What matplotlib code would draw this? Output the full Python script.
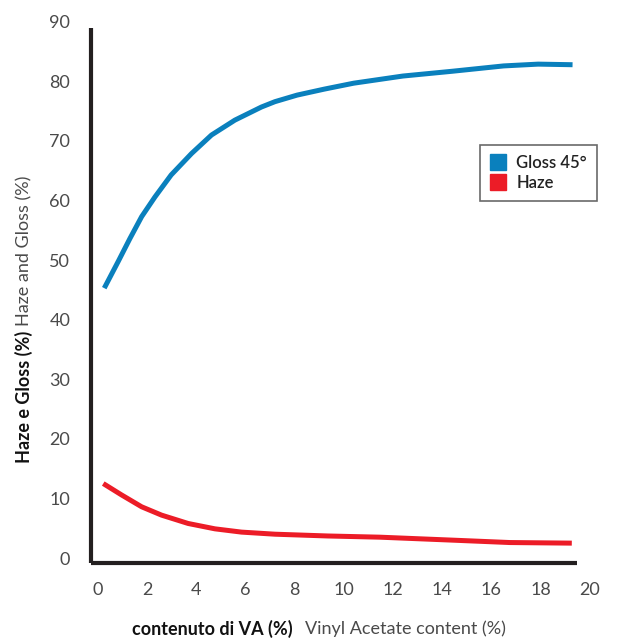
import matplotlib
matplotlib.use('Agg')
import matplotlib.pyplot as plt
from matplotlib.lines import Line2D

# data
va_gloss = [0.26, 0.83, 1.3, 1.78, 2.32, 2.98, 3.81, 4.62, 5.57, 6.65, 7.2, 8.1, 9.2,
            10.4, 12.4, 14.4, 16.5, 17.9, 19.3]
gloss = [45.3, 49.8, 53.6, 57.3, 60.6, 64.3, 67.9, 71.0, 73.5, 75.7, 76.6, 77.7, 78.7,
         79.7, 80.9, 81.7, 82.6, 82.9, 82.8]
va_haze = [0.22, 0.96, 1.78, 2.59, 3.67, 4.76, 5.84, 7.2, 9.36, 11.46, 14.43, 16.75, 19.27]
haze = [12.5, 10.6, 8.6, 7.2, 5.8, 4.9, 4.35, 4.0, 3.7, 3.5, 3.0, 2.6, 2.5]

xticks = [0, 2, 4, 6, 8, 10, 12, 14, 16, 18, 20]
yticks = [0, 10, 20, 30, 40, 50, 60, 70, 80, 90]

blue = '#0a80bd'
red = '#ec1c27'
dark = '#231f20'
grey = '#4a4a4a'

plt.rcParams['font.family'] = ['Lato', 'DejaVu Sans']

fig = plt.figure(figsize=(6.21, 6.42), dpi=100)
ax = fig.add_axes([0.1465, 0.123, 0.823, 0.843])

ax.plot(va_gloss, gloss, '-', color=blue, linewidth=3.6, solid_capstyle='butt', solid_joinstyle='round')
ax.plot(va_haze, haze, '-', color=red, linewidth=3.6, solid_capstyle='butt', solid_joinstyle='round')

ax.set_xlim(-0.28, 20.5)
ax.set_ylim(-0.84, 90)
for s in ['top', 'right']:
    ax.spines[s].set_visible(False)
for s in ['left', 'bottom']:
    ax.spines[s].set_linewidth(3)
    ax.spines[s].set_color(dark)
    ax.spines[s].set_capstyle('butt')
ax.spines['left'].set_bounds(-0.84, 88.9)
ax.spines['bottom'].set_bounds(-0.28, 19.5)

ax.set_xticks(xticks)
ax.set_yticks(yticks)
ax.tick_params(length=0, labelsize=13, labelcolor=grey, pad=14)
ax.tick_params(axis='y', pad=15)

# axis titles: bold Italian + lighter English
fig.text(293/621, 1-629/642, 'contenuto di VA (%)', ha='right', va='center',
         fontsize=13, fontweight='bold', color='#111111')
fig.text(305/621, 1-629/642, 'Vinyl Acetate content (%)', ha='left', va='center',
         fontsize=13, color=grey)
fig.text(24/621, 1-463/642, 'Haze e Gloss (%)', ha='center', va='bottom', rotation=90,
         fontsize=13, fontweight='bold', color='#111111')
fig.text(24/621, 1-326/642, 'Haze and Gloss (%)', ha='center', va='bottom', rotation=90,
         fontsize=13, color=grey)

handles = [Line2D([], [], marker='s', linestyle='none', markersize=12, color=blue),
           Line2D([], [], marker='s', linestyle='none', markersize=12, color=red)]
leg = fig.legend(handles, ['Gloss 45°', 'Haze'], loc='upper right',
                 bbox_to_anchor=(597/621, 1-145/642), fontsize=12,
                 frameon=True, fancybox=False, handletextpad=0.6, handlelength=1.0,
                 labelspacing=0.25, borderpad=0.6, borderaxespad=0)
leg.get_frame().set_edgecolor('#444444')
leg.get_frame().set_linewidth(1.2)
for t in leg.get_texts():
    t.set_fontweight('semibold')
    t.set_color('#222222')

fig.savefig('out.png', dpi=100)
